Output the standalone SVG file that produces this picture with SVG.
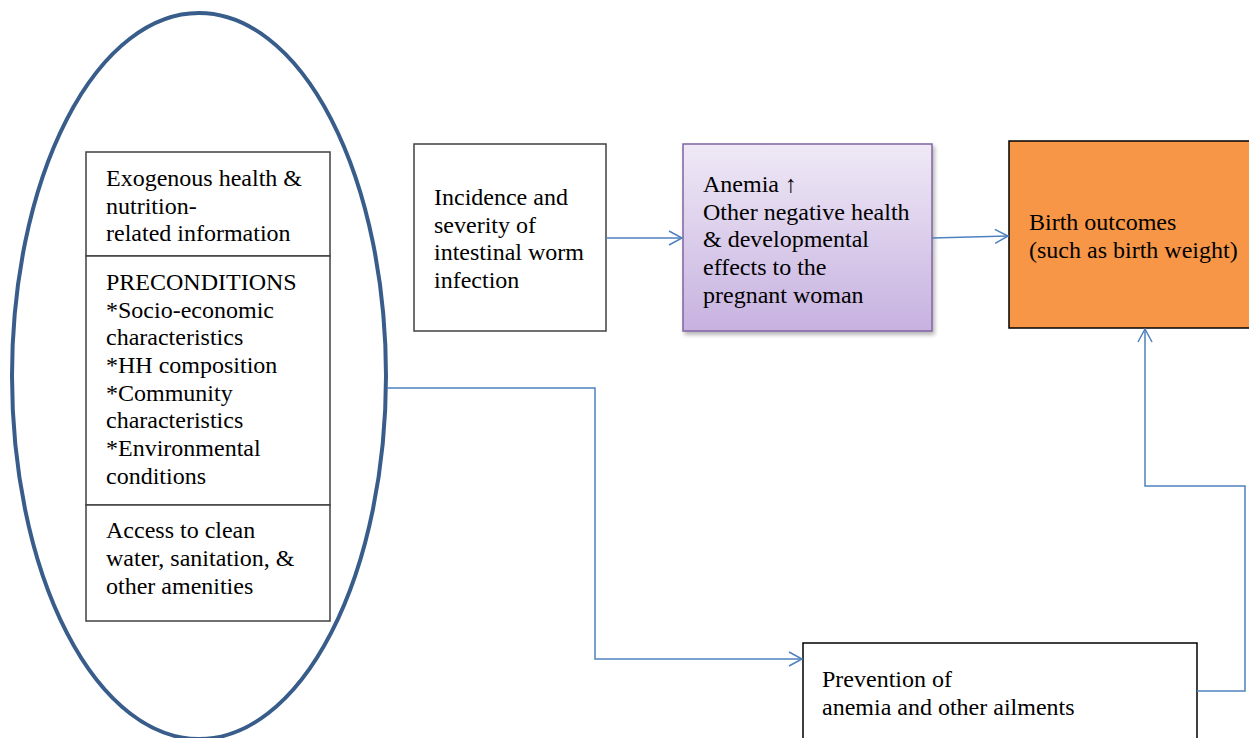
<svg xmlns="http://www.w3.org/2000/svg" width="1249" height="738" viewBox="0 0 1249 738">
<style>
text{font-family:"Liberation Serif","Times New Roman",serif;font-size:24px;fill:#000}
.box{fill:#fff;stroke:#000;stroke-width:1.5}
.gbox{fill:#fff;stroke:#404040;stroke-width:1.5}
.con{fill:none;stroke:#4f81bd;stroke-width:1.5}
</style>
<defs>
<marker id="arr" markerWidth="16" markerHeight="16" refX="14" refY="8" orient="auto" markerUnits="userSpaceOnUse">
<path d="M1,1 L14,8 L1,15" fill="none" stroke="#4f81bd" stroke-width="1.5"/>
</marker>
<linearGradient id="purp" x1="0" y1="0" x2="0" y2="1">
<stop offset="0" stop-color="#efe9f6"/>
<stop offset="1" stop-color="#c7b2e0"/>
</linearGradient>
<filter id="sh" x="-10%" y="-10%" width="130%" height="130%">
<feDropShadow dx="2" dy="3" stdDeviation="2" flood-color="#000" flood-opacity="0.3"/>
</filter>
</defs>
<g id="ellipse-group">
<ellipse cx="199" cy="376" rx="187" ry="363" fill="none" stroke="#385d8a" stroke-width="4"/>
</g>
<g id="exogenous">
<rect class="gbox" x="86" y="152" width="244" height="104"/>
<text x="106" y="186">Exogenous health &amp;</text>
<text x="106" y="214">nutrition-</text>
<text x="106" y="241">related information</text>
</g>
<g id="preconditions">
<rect class="gbox" x="86" y="256" width="244" height="249"/>
<text x="106" y="290">PRECONDITIONS</text>
<text x="106" y="318">*Socio-economic</text>
<text x="106" y="345">characteristics</text>
<text x="106" y="373">*HH composition</text>
<text x="106" y="401">*Community</text>
<text x="106" y="428">characteristics</text>
<text x="106" y="456">*Environmental</text>
<text x="106" y="484">conditions</text>
</g>
<g id="access">
<rect class="gbox" x="86" y="505" width="244" height="116"/>
<text x="106" y="538">Access to clean</text>
<text x="106" y="566">water, sanitation, &amp;</text>
<text x="106" y="594">other amenities</text>
</g>
<g id="incidence">
<rect class="gbox" x="414" y="144" width="192" height="187"/>
<text x="434" y="205">Incidence and</text>
<text x="434" y="233">severity of</text>
<text x="434" y="260">intestinal worm</text>
<text x="434" y="288">infection</text>
</g>
<g id="anemia">
<rect x="683" y="144" width="249" height="187" fill="url(#purp)" stroke="#8064a2" stroke-width="1.5" filter="url(#sh)"/>
<text x="703" y="192">Anemia ↑</text>
<text x="703" y="220">Other negative health</text>
<text x="703" y="247">&amp; developmental</text>
<text x="703" y="275">effects to the</text>
<text x="703" y="303">pregnant woman</text>
</g>
<g id="birth">
<rect x="1009" y="141" width="250" height="187" fill="#f79646" stroke="#000" stroke-width="1.5"/>
<text x="1029" y="230">Birth outcomes</text>
<text x="1029" y="258">(such as birth weight)</text>
</g>
<g id="prevention">
<rect class="box" x="803" y="643" width="394" height="110"/>
<text x="822" y="687">Prevention of</text>
<text x="822" y="715">anemia and other ailments</text>
</g>
<g id="connectors">
<path class="con" d="M606,238 L682,238" marker-end="url(#arr)"/>
<path class="con" d="M932,238 L1008,236" marker-end="url(#arr)"/>
<path class="con" d="M387,388 L595,388 L595,659 L802,659" marker-end="url(#arr)"/>
<path class="con" d="M1197,691 L1245,691 L1245,486 L1145,486 L1145,329" marker-end="url(#arr)"/>
</g>
</svg>
